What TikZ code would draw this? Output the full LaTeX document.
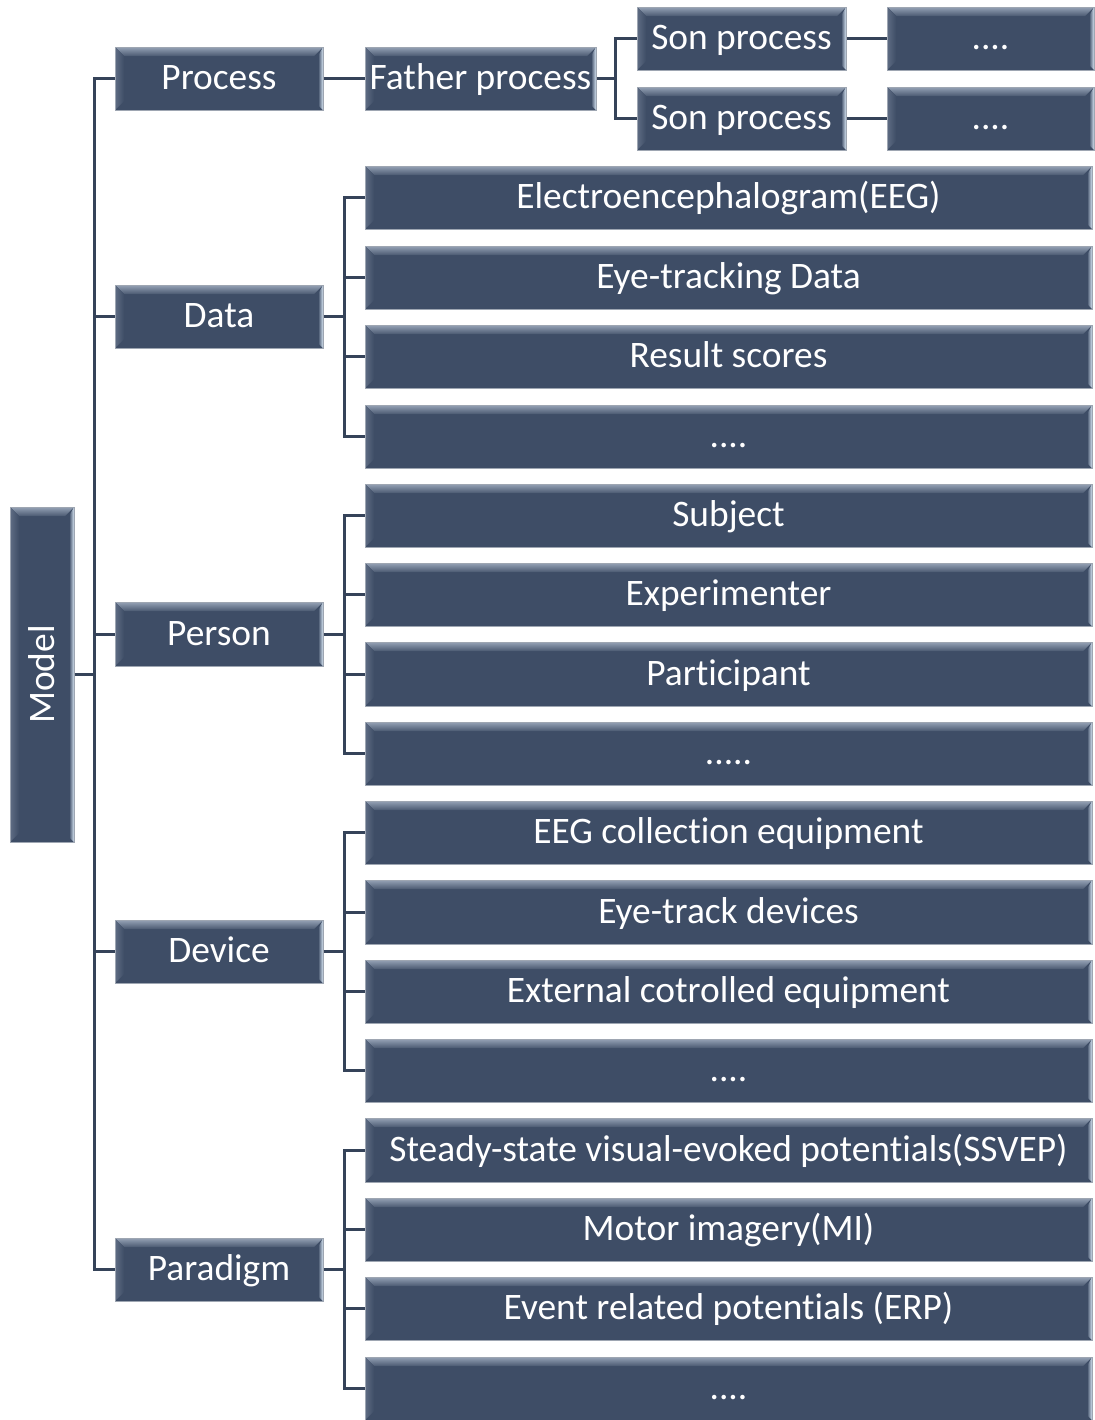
\documentclass[tikz,border=0pt]{standalone}
\usepackage{fontspec}
\setmainfont{Carlito}[Ligatures=NoCommon]
\usetikzlibrary{calc}
\definecolor{base}{HTML}{3E4D66}
\definecolor{bevtop}{HTML}{95A2B5}
\definecolor{bevleft}{HTML}{5F6D84}
\definecolor{edgehl}{HTML}{D6E4F2}
\definecolor{outl}{HTML}{9EA6B2}
\definecolor{conncol}{HTML}{354359}
\tikzset{
  bxbase/.style={draw=outl, line width=0.5pt, fill=base, text=white, inner sep=0pt,
    font=\fontsize{18.7}{20}\selectfont,
    path picture={
      \path (path picture bounding box.north west) coordinate (pnw)
            (path picture bounding box.north east) coordinate (pne)
            (path picture bounding box.south west) coordinate (psw)
            (path picture bounding box.south east) coordinate (pse);
      \fill[top color=bevtop, bottom color=base!85!bevtop]
        (pnw) -- (pne) -- ($(pne)+(-4.5pt,-4.5pt)$) -- ($(pnw)+(4.5pt,-4.5pt)$) -- cycle;
      \fill[left color=bevleft, right color=base]
        (pnw) -- ($(pnw)+(4.5pt,-4.5pt)$) -- ($(psw)+(4.5pt,4.5pt)$) -- (psw) -- cycle;
      \fill[left color=base, right color=edgehl]
        (pne) -- (pse) -- ($(pse)+(-2.5pt,2.5pt)$) -- ($(pne)+(-2.5pt,-4.5pt)$) -- cycle;
    }},
  bx/.style={bxbase, text height=14pt, text depth=3pt},
  conn/.style={draw=conncol, line width=1.5pt}
}
\newcommand\mybox[6]{\node[bx, minimum width={(#4-#2)*0.5pt}, minimum height={(#5-#3)*0.5pt}] (#1) at ({(#2+#4)/2},{(#3+#5)/2}) {#6};}
\begin{document}
\begin{tikzpicture}[x=0.5pt,y=-0.5pt]
\useasboundingbox (0,0) rectangle (1094,1420);
% root
\node[bxbase, minimum width=32pt, minimum height=167.5pt] (model) at (42,674.5) {\rotatebox{90}{Model}};
% level 1
\mybox{proc}{115}{47}{323}{110}{Process}
\mybox{data}{115}{285}{323}{348}{Data}
\mybox{pers}{115}{602}{323}{666}{Person}
\mybox{dev}{115}{920}{323}{983}{Device}
\mybox{para}{115}{1238}{323}{1301}{Paradigm}
% process branch
\mybox{father}{365}{47}{596}{110}{Father process}
\mybox{sonA}{637}{7}{846}{70}{Son process}
\mybox{sonB}{637}{87}{846}{150}{Son process}
\mybox{dotA}{887}{7}{1094}{70}{....}
\mybox{dotB}{887}{87}{1094}{150}{....}
% data
\mybox{dA}{365}{166}{1092}{229}{Electroencephalogram(EEG)}
\mybox{dB}{365}{246}{1092}{309}{Eye-tracking Data}
\mybox{dC}{365}{325}{1092}{388}{Result scores}
\mybox{dD}{365}{405}{1092}{468}{....}
% person
\mybox{pA}{365}{484}{1092}{547}{Subject}
\mybox{pB}{365}{563}{1092}{626}{Experimenter}
\mybox{pC}{365}{642}{1092}{706}{Participant}
\mybox{pD}{365}{722}{1092}{785}{.....}
% device
\mybox{vA}{365}{801}{1092}{864}{EEG collection equipment}
\mybox{vB}{365}{880}{1092}{944}{Eye-track devices}
\mybox{vC}{365}{960}{1092}{1023}{External cotrolled equipment}
\mybox{vD}{365}{1039}{1092}{1102}{....}
% paradigm
\mybox{gA}{365}{1118}{1092}{1182}{Steady-state visual-evoked potentials(SSVEP)}
\mybox{gB}{365}{1198}{1092}{1261}{Motor imagery(MI)}
\mybox{gC}{365}{1277}{1092}{1340}{Event related potentials (ERP)}
\mybox{gD}{365}{1357}{1092}{1420}{....}
% connectors: trunk
\draw[conn] (model.east) -- ++(21,0);
\draw[conn] (proc.west) -- ++(-20,0) |- (para.west);
\draw[conn] (data.west) -- ++(-20,0);
\draw[conn] (pers.west) -- ++(-20,0);
\draw[conn] (dev.west) -- ++(-20,0);
% process
\draw[conn] (proc.east) -- (father.west);
\draw[conn] (father.east) -- ++(20,0);
\draw[conn] (sonA.west) -- ++(-21,0) |- (sonB.west);
\draw[conn] (sonA.east) -- (dotA.west);
\draw[conn] (sonB.east) -- (dotB.west);
% brackets
\foreach \p/\a/\b/\c/\d in {data/dA/dB/dC/dD, pers/pA/pB/pC/pD, dev/vA/vB/vC/vD, para/gA/gB/gC/gD}{
  \draw[conn] (\p.east) -- ++(22,0);
  \draw[conn] (\a.west) -- ++(-20,0) |- (\d.west);
  \draw[conn] (\b.west) -- ++(-20,0);
  \draw[conn] (\c.west) -- ++(-20,0);
}
\end{tikzpicture}
\end{document}
